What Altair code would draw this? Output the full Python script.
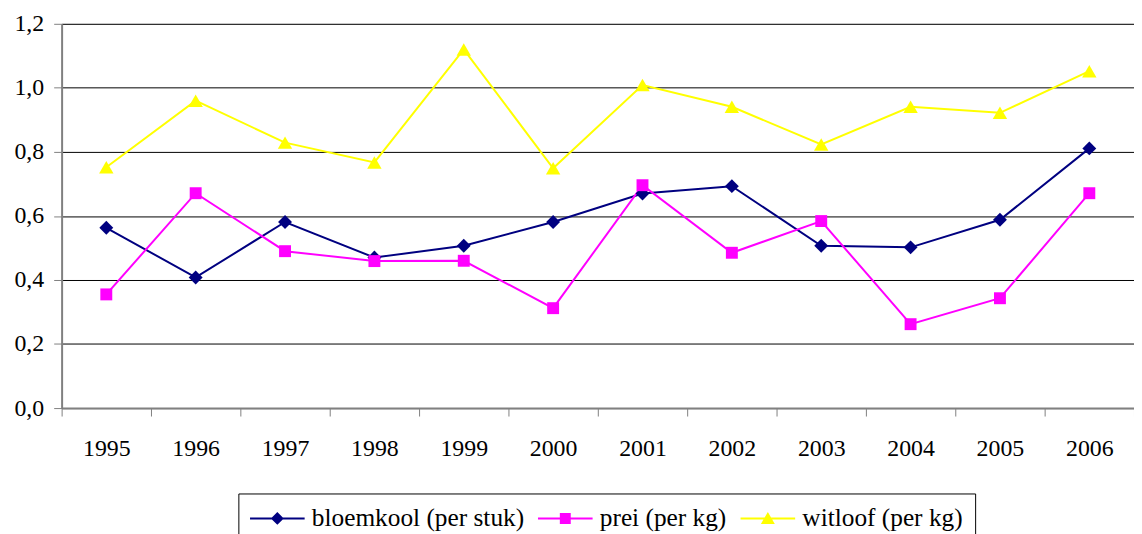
import altair as alt
import pandas as pd

years = ["1995", "1996", "1997", "1998", "1999", "2000",
         "2001", "2002", "2003", "2004", "2005", "2006"]
series_names = ["bloemkool (per stuk)", "prei (per kg)", "witloof (per kg)"]
bloemkool = [0.563, 0.408, 0.581, 0.470, 0.507, 0.581, 0.670, 0.693, 0.507, 0.502, 0.588, 0.811]
prei = [0.355, 0.671, 0.490, 0.459, 0.460, 0.312, 0.696, 0.485, 0.584, 0.262, 0.343, 0.671]
witloof = [0.752, 0.960, 0.829, 0.767, 1.120, 0.749, 1.009, 0.941, 0.823, 0.941, 0.922, 1.052]
colors = ["#000080", "#FF00FF", "#FFFF00"]
marker_shapes = ["diamond", "square", "triangle-up"]
marker_sizes = [196, 144, 210]
y_ticks = [0, 0.2, 0.4, 0.6, 0.8, 1.0, 1.2]

rows = []
for name, vals in zip(series_names, [bloemkool, prei, witloof]):
    for yr, v in zip(years, vals):
        rows.append({"year": yr, "value": v, "series": name, "kleur": name})
df = pd.DataFrame(rows)

FONT = "Liberation Serif"
FS = 24
LFS = 25.5

# legend symbols: line + marker in one path (nominal size 400 -> unit = 10px)
legend_paths = [
    "M-2.75,-0.1H2.75V0.1H-2.75Z M0,-0.65L0.65,0L0,0.65L-0.65,0Z",
    "M-2.75,-0.1H2.75V0.1H-2.75Z M-0.55,-0.55H0.55V0.55H-0.55Z",
    "M-2.75,-0.1H2.75V0.1H-2.75Z M0,-0.65L0.7,0.55H-0.7Z",
]

x_enc = alt.X("year:O", sort=years,
              scale=alt.Scale(type="band", paddingInner=0, paddingOuter=0, domain=years),
              axis=alt.Axis(title=None, labelAngle=0, tickBand="extent", tickSize=8,
                            tickColor="#808080", tickWidth=1, domainColor="#808080",
                            domainWidth=2, labelFontSize=FS, labelFont=FONT,
                            labelColor="black", labelPadding=21, grid=False))
y_enc = alt.Y("value:Q", scale=alt.Scale(domain=[0, 1.2], nice=False),
              axis=alt.Axis(title=None, values=y_ticks,
                            labelExpr="replace(format(datum.value, '.1f'), '.', ',')",
                            tickSize=8, tickColor="#808080", domainColor="#808080",
                            domainWidth=2, gridColor="#000000", gridWidth=1,
                            labelFontSize=FS, labelFont=FONT, labelColor="black",
                            labelPadding=10))
color_scale = alt.Scale(domain=series_names, range=colors)

base = alt.Chart(df)

leg = alt.Legend(title=None, orient="none", legendX=178, legendY=473,
                 direction="horizontal", strokeColor="black",
                 padding=12, labelFont=FONT, labelFontSize=LFS, labelLimit=0,
                 labelColor="black", labelOffset=22, symbolOffset=14.5,
                 columnPadding=13, symbolSize=400,
                 symbolOpacity=1, symbolStrokeWidth=0)

# invisible layer that only carries the legend (first, so its legend settings win)
legend_layer = base.mark_point(filled=True, opacity=0).encode(
    x=x_enc, y=y_enc,
    color=alt.Color("series:N", scale=color_scale, legend=leg),
    shape=alt.Shape("series:N", scale=alt.Scale(domain=series_names, range=legend_paths),
                    legend=leg),
)

lines = base.mark_line(strokeWidth=2).encode(
    x=x_enc, y=y_enc,
    color=alt.Color("kleur:N", scale=color_scale, legend=None),
    detail="series:N",
)

point_layers = []
for name, shp, sz in zip(series_names, marker_shapes, marker_sizes):
    point_layers.append(
        base.transform_filter(alt.datum.series == name)
        .mark_point(filled=True, opacity=1, shape=shp, size=sz)
        .encode(x=x_enc, y=y_enc,
                color=alt.Color("kleur:N", scale=color_scale, legend=None))
    )

chart = alt.layer(legend_layer, lines, *point_layers).properties(
    width=1080, height=387,
    autosize=alt.AutoSizeParams(type="none"),
    padding={"left": 54, "top": 14, "right": 0, "bottom": 140},
).configure_view(stroke=None).configure(
    background="white", font=FONT
).configure_legend(
    labelFont=FONT, labelFontSize=LFS, labelColor="black", labelLimit=0
)

chart.save("out.html", embed_options={"renderer": "svg", "actions": False})
